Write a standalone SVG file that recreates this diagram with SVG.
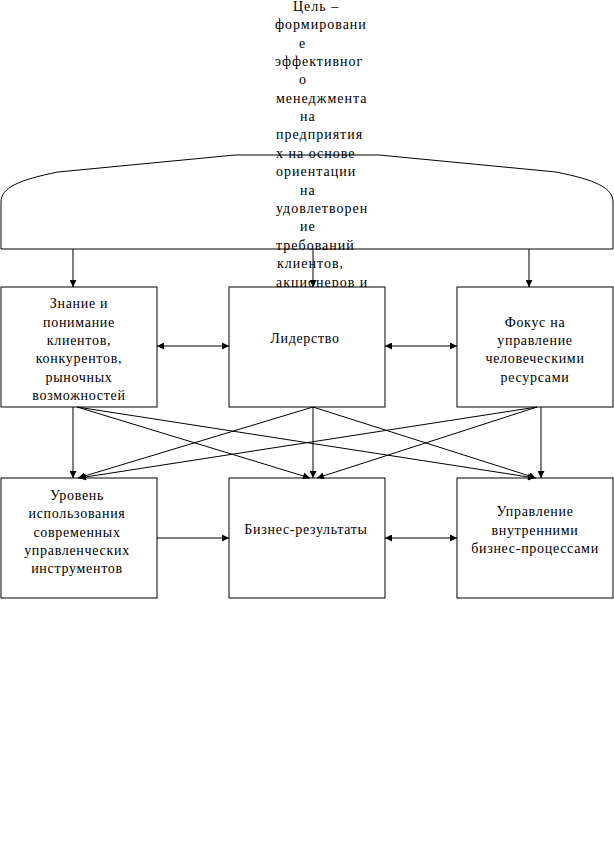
<svg xmlns="http://www.w3.org/2000/svg" width="614" height="863" viewBox="0 0 614 863">
<style>
text{font-family:"Liberation Serif","Times New Roman",serif;font-size:14px;fill:#000;letter-spacing:0.7px}
.t{letter-spacing:1px}
.c{text-anchor:middle}
.box{fill:#fff;stroke:#000;stroke-width:1}
.ln{stroke:#000;stroke-width:1;fill:none}
</style>
<defs>
<marker id="ah" viewBox="0 0 10 10" refX="10" refY="5" markerWidth="8" markerHeight="7" markerUnits="userSpaceOnUse" orient="auto-start-reverse">
<path d="M0,0 L10,5 L0,10 Z" fill="#000"/>
</marker>
</defs>
<rect width="614" height="863" fill="#fff"/>
<g id="goal">
<text class="t" x="293" y="11">Цель –</text>
<text class="t" x="275" y="29">формировани</text>
<text class="t" x="299" y="48">е</text>
<text class="t" x="275" y="66">эффективног</text>
<text class="t" x="299" y="84">о</text>
<text class="t" x="276" y="103">менеджмента</text>
<text class="t" x="300" y="121">на</text>
<text class="t" x="276" y="139">предприятия</text>
<text class="t" x="276" y="158">х на основе</text>
<text class="t" x="276" y="176">ориентации</text>
<text class="t" x="300" y="195">на</text>
<text class="t" x="276" y="213">удовлетворен</text>
<text class="t" x="300" y="231">ие</text>
<text class="t" x="276" y="250">требований</text>
<text class="t" x="277" y="268">клиентов,</text>
<text class="t" x="276" y="287">акционеров и</text>
<path class="ln" d="M1,249 L1,202 C1,188 18,180 58,172 L235,155 L379,155 L556,172 C596,180 613,188 613,202 L613,249 Z"/>
</g>
<g id="n1">
<rect class="box" x="1" y="287" width="156" height="120"/>
<text class="c" x="79" y="308">Знание и</text>
<text class="c" x="79" y="327">понимание</text>
<text class="c" x="79" y="345">клиентов,</text>
<text class="c" x="79" y="363">конкурентов,</text>
<text class="c" x="79" y="382">рыночных</text>
<text class="c" x="79" y="400">возможностей</text>
</g>
<g id="n2">
<rect class="box" x="229" y="287" width="156" height="120"/>
<text class="c" x="305" y="343">Лидерство</text>
</g>
<g id="n3">
<rect class="box" x="457" y="287" width="156" height="120"/>
<text class="c" x="535" y="327">Фокус на</text>
<text class="c" x="535" y="345">управление</text>
<text class="c" x="535" y="363">человеческими</text>
<text class="c" x="535" y="382">ресурсами</text>
</g>
<g id="n4">
<rect class="box" x="1" y="478" width="156" height="120"/>
<text class="c" x="77" y="500">Уровень</text>
<text class="c" x="77" y="518">использования</text>
<text class="c" x="77" y="537">современных</text>
<text class="c" x="77" y="555">управленческих</text>
<text class="c" x="77" y="573">инструментов</text>
</g>
<g id="n5">
<rect class="box" x="229" y="478" width="156" height="120"/>
<text class="c" x="306" y="534">Бизнес-результаты</text>
</g>
<g id="n6">
<rect class="box" x="457" y="478" width="156" height="120"/>
<text class="c" x="535" y="516">Управление</text>
<text class="c" x="535" y="535">внутренними</text>
<text class="c" x="535" y="553">бизнес-процессами</text>
</g>
<g id="connectors" class="ln">
<line class="ln" x1="73" y1="249" x2="73" y2="287" marker-end="url(#ah)"/>
<line class="ln" x1="313" y1="249" x2="313" y2="287" marker-end="url(#ah)"/>
<line class="ln" x1="529" y1="249" x2="529" y2="287" marker-end="url(#ah)"/>
<line class="ln" x1="157" y1="346" x2="229" y2="346" marker-start="url(#ah)" marker-end="url(#ah)"/>
<line class="ln" x1="385" y1="346" x2="457" y2="346" marker-start="url(#ah)" marker-end="url(#ah)"/>
<line class="ln" x1="73" y1="407" x2="73" y2="478" marker-end="url(#ah)"/>
<line class="ln" x1="313" y1="407" x2="313" y2="478" marker-end="url(#ah)"/>
<line class="ln" x1="541" y1="407" x2="541" y2="478" marker-end="url(#ah)"/>
<line class="ln" x1="77" y1="407" x2="310" y2="478" marker-end="url(#ah)"/>
<line class="ln" x1="77" y1="407" x2="535" y2="478" marker-end="url(#ah)"/>
<line class="ln" x1="313" y1="407" x2="78" y2="478" marker-end="url(#ah)"/>
<line class="ln" x1="313" y1="407" x2="536" y2="478" marker-end="url(#ah)"/>
<line class="ln" x1="537" y1="407" x2="79" y2="478" marker-end="url(#ah)"/>
<line class="ln" x1="537" y1="407" x2="317" y2="478" marker-end="url(#ah)"/>
<line class="ln" x1="157" y1="538" x2="229" y2="538" marker-end="url(#ah)"/>
<line class="ln" x1="385" y1="538" x2="457" y2="538" marker-start="url(#ah)" marker-end="url(#ah)"/>
</g>
</svg>
